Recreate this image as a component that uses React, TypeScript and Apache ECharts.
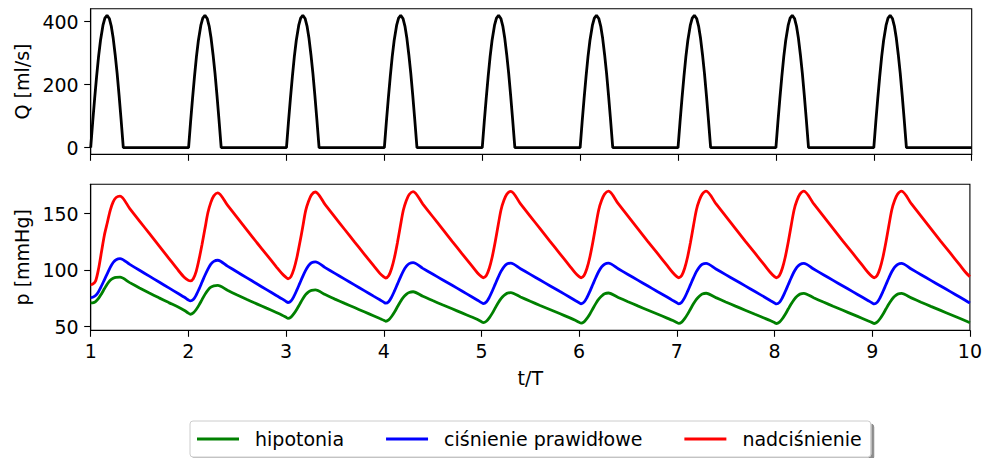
import React, { useEffect, useRef } from "react";
import * as echarts from "echarts";

// ---------- data ----------
const cycleStarts = [1, 2, 3, 4, 5, 6, 7, 8, 9];
const endT = 10;

const qOffsets = [0, 0.02, 0.04, 0.06, 0.08, 0.10, 0.125, 0.145, 0.167, 0.19, 0.21, 0.23, 0.25, 0.27, 0.29, 0.31, 0.333];
const qPulse = [0, 80, 155, 225, 288, 340, 388, 411, 420, 410, 386, 347, 295, 236, 166, 91, 0];
const qEnd = 0;

// pressure sample offsets within each cycle
const pOffsets = [0.0, 0.02, 0.05, 0.08, 0.11, 0.14, 0.17, 0.2, 0.23, 0.26, 0.3, 0.4, 0.5, 0.6, 0.7, 0.8, 0.9, 0.96];

const redCycles = [
  [87.3, 87.6, 90.5, 101, 116, 131, 142, 153, 160.5, 164.3, 165.5, 154.5, 143.5, 132.5, 121.5, 110.5, 99.5, 93.5],
  [91.0, 90.5, 92.5, 99, 110, 123, 137, 151, 160, 165.8, 168.4, 157.5, 146.5, 135.5, 124.5, 113.8, 103, 96.8],
  [93.6, 92.4, 94.3, 101, 111, 124, 138, 152.5, 161, 166.7, 169.2, 158, 147, 136, 125, 114.3, 103.5, 97.2],
  [94.1, 93.1, 95, 101.5, 111.5, 124.5, 139, 153, 161.5, 167, 169.6, 158.5, 147.5, 136.5, 125.5, 114.7, 104, 97.5],
  [94.3, 93.3, 95.2, 101.7, 111.7, 124.7, 139.3, 153.3, 161.8, 167.3, 169.8, 158.7, 147.7, 136.7, 125.7, 114.9, 104.1, 97.6],
  [94.3, 93.3, 95.2, 101.7, 111.7, 124.7, 139.3, 153.3, 161.8, 167.3, 169.9, 158.8, 147.8, 136.8, 125.8, 115, 104.2, 97.7],
  [94.3, 93.3, 95.2, 101.7, 111.7, 124.7, 139.3, 153.3, 161.8, 167.3, 170, 158.8, 147.8, 136.8, 125.8, 115, 104.2, 97.7],
  [94.3, 93.3, 95.2, 101.7, 111.7, 124.7, 139.3, 153.3, 161.8, 167.3, 170, 158.8, 147.8, 136.8, 125.8, 115, 104.2, 97.7],
  [94.3, 93.3, 95.2, 101.7, 111.7, 124.7, 139.3, 153.3, 161.8, 167.3, 170, 158.8, 147.8, 136.8, 125.8, 115, 104.2, 97.7],
];
const redEnd = 94.3;

const blueCycles = [
  [75.8, 76.0, 77.5, 81, 86, 91.5, 97, 102.5, 106.8, 109.3, 110.3, 105.1, 99.9, 94.7, 89.5, 84.3, 79.1, 76],
  [73.6, 72.8, 74, 78, 83.5, 89.5, 95.5, 101, 105.3, 107.8, 108.8, 103.6, 98.4, 93.2, 88, 82.8, 77.6, 74.6],
  [72.3, 71.4, 72.7, 76.8, 82.3, 88.3, 94.3, 99.8, 104, 106.5, 107.4, 102.3, 97.2, 92.1, 87, 81.9, 76.8, 73.8],
  [71.7, 70.8, 72.1, 76.2, 81.7, 87.7, 93.7, 99.2, 103.4, 105.8, 106.7, 101.6, 96.6, 91.6, 86.6, 81.6, 76.5, 73.4],
  [71.3, 70.4, 71.8, 75.9, 81.4, 87.4, 93.4, 98.9, 103, 105.4, 106.3, 101.3, 96.3, 91.3, 86.3, 81.3, 76.3, 73.2],
  [71.2, 70.3, 71.7, 75.8, 81.3, 87.3, 93.3, 98.8, 102.9, 105.3, 106.2, 101.2, 96.2, 91.2, 86.2, 81.2, 76.2, 73.1],
  [71.1, 70.2, 71.6, 75.7, 81.2, 87.2, 93.2, 98.7, 102.8, 105.2, 106.1, 101.1, 96.1, 91.1, 86.1, 81.1, 76.1, 73.0],
  [71.0, 70.1, 71.5, 75.6, 81.1, 87.1, 93.1, 98.6, 102.7, 105.1, 106.0, 101.0, 96.0, 91.0, 86.0, 81.0, 76.0, 73.0],
  [71.0, 70.1, 71.5, 75.6, 81.1, 87.1, 93.1, 98.6, 102.7, 105.1, 106.0, 101.0, 96.0, 91.0, 86.0, 81.0, 76.0, 73.0],
];
const blueEnd = 70.9;

const greenCycles = [
  [71, 71.1, 72.2, 75, 79, 83.5, 87.8, 91, 92.9, 93.7, 93.8, 89, 84.3, 79.8, 75.5, 71.3, 67.2, 64.3],
  [62, 61, 62.2, 65.2, 69.3, 74, 78.6, 82.4, 85, 86.2, 86.5, 82.2, 78, 74, 70.2, 66.4, 62.6, 60.2],
  [58.3, 57.3, 58.5, 61.5, 65.5, 70, 74.5, 78.3, 80.9, 82.2, 82.5, 78.4, 74.4, 70.6, 66.9, 63.2, 59.5, 57.2],
  [55.7, 54.8, 56, 59, 63, 67.6, 72.1, 75.9, 78.6, 80.3, 80.9, 76.9, 73.1, 69.4, 65.8, 62.2, 58.6, 56.3],
  [54.4, 53.6, 54.8, 57.8, 61.8, 66.4, 70.9, 74.8, 77.6, 79.5, 80.2, 76.3, 72.5, 68.8, 65.2, 61.6, 58, 55.7],
  [53.9, 53.1, 54.3, 57.3, 61.3, 65.9, 70.4, 74.3, 77.1, 79.1, 79.8, 75.9, 72.1, 68.4, 64.8, 61.2, 57.6, 55.4],
  [53.7, 52.9, 54.1, 57.1, 61.1, 65.7, 70.2, 74.1, 77, 78.9, 79.6, 75.7, 71.9, 68.2, 64.6, 61, 57.4, 55.2],
  [53.6, 52.8, 54, 57, 61, 65.6, 70.1, 74, 76.9, 78.8, 79.5, 75.6, 71.8, 68.1, 64.5, 60.9, 57.3, 55.1],
  [53.6, 52.8, 54, 57, 61, 65.6, 70.1, 74, 76.9, 78.8, 79.4, 75.5, 71.7, 68, 64.4, 60.8, 57.2, 55],
];
const greenEnd = 53.5;

const seriesNames = ["hipotonia", "ciśnienie prawidłowe", "nadciśnienie"];
const xTicks = [1, 2, 3, 4, 5, 6, 7, 8, 9, 10];
const qTicks = [0, 200, 400];
const pTicks = [50, 100, 150];

// ---------- helpers ----------
function buildCycles(offsets: number[], cycles: number[][], endValue: number) {
  const pts: number[][] = [];
  cycleStarts.forEach((s, i) => {
    offsets.forEach((o, j) => pts.push([s + o, cycles[i][j]]));
  });
  pts.push([endT, endValue]);
  return pts;
}

function buildQ() {
  const pts: number[][] = [];
  cycleStarts.forEach((s) => {
    qOffsets.forEach((o, j) => pts.push([s + o, qPulse[j]]));
  });
  pts.push([endT, qEnd]);
  return pts;
}

const FONT = "DejaVu Sans";
const FS = 19;

export default function App() {
  const ref = useRef<HTMLDivElement>(null);
  useEffect(() => {
    if (!ref.current) return;
    const chart = echarts.init(ref.current, undefined, { renderer: "svg" });
    const axisCommonX = {
      type: "value",
      min: 1,
      max: 10,
      interval: 1,
      axisLine: { show: true, onZero: false, lineStyle: { color: "#000", width: 1.1 } },
      axisTick: { show: true, inside: false, length: 6.5, lineStyle: { color: "#000", width: 1.1 }, customValues: xTicks },
      splitLine: { show: false },
    };
    const yLine = { show: true, onZero: false, lineStyle: { color: "#000", width: 1.1 } };
    const option: any = {
      animation: false,
      backgroundColor: "#fff",
      textStyle: { fontFamily: FONT },
      grid: [
        { left: 90.7, right: 13.3, top: 8.7, height: 145.6, show: true, borderColor: "#000", borderWidth: 1.1, backgroundColor: "transparent" },
        { left: 90.7, right: 13.3, top: 184.3, height: 146, show: true, borderColor: "#000", borderWidth: 1.1, backgroundColor: "transparent" },
      ],
      xAxis: [
        { ...axisCommonX, gridIndex: 0, axisLabel: { show: false } },
        {
          ...axisCommonX,
          gridIndex: 1,
          name: "t/T",
          nameLocation: "middle",
          nameGap: 38,
          nameTextStyle: { fontFamily: FONT, fontSize: FS, color: "#000" },
          axisLabel: { show: true, margin: 11, fontFamily: FONT, fontSize: FS, color: "#000", showMinLabel: true, showMaxLabel: true, customValues: xTicks },
        },
      ],
      yAxis: [
        {
          type: "value",
          gridIndex: 0,
          min: -21,
          max: 441,
          name: "Q [ml/s]",
          nameLocation: "middle",
          nameGap: 58,
          nameTextStyle: { fontFamily: FONT, fontSize: FS, color: "#000" },
          axisLine: yLine,
          axisTick: { show: true, inside: false, length: 6.5, lineStyle: { color: "#000", width: 1.1 }, customValues: qTicks },
          axisLabel: { show: true, margin: 12, fontFamily: FONT, fontSize: FS, color: "#000", customValues: qTicks },
          splitLine: { show: false },
        },
        {
          type: "value",
          gridIndex: 1,
          min: 46.8,
          max: 176,
          name: "p [mmHg]",
          nameLocation: "middle",
          nameGap: 58,
          nameTextStyle: { fontFamily: FONT, fontSize: FS, color: "#000" },
          axisLine: yLine,
          axisTick: { show: true, inside: false, length: 6.5, lineStyle: { color: "#000", width: 1.1 }, customValues: pTicks },
          axisLabel: { show: true, margin: 12, fontFamily: FONT, fontSize: FS, color: "#000", customValues: pTicks },
          splitLine: { show: false },
        },
      ],
      legend: {
        data: seriesNames,
        left: 190,
        top: 421,
        orient: "horizontal",
        padding: [8.5, 9, 8.5, 7],
        icon: "rect",
        itemWidth: 42,
        itemHeight: 3,
        itemGap: 42,
        backgroundColor: "#fff",
        borderColor: "#cccccc",
        borderWidth: 1,
        borderRadius: 3,
        shadowColor: "rgba(0,0,0,0.45)",
        shadowBlur: 0,
        shadowOffsetX: 3,
        shadowOffsetY: 3,
        textStyle: { fontFamily: FONT, fontSize: FS, color: "#000", padding: [0, 0, 0, 11] },
        selectedMode: false,
      },
      series: [
        {
          type: "line",
          xAxisIndex: 0,
          yAxisIndex: 0,
          data: buildQ(),
          showSymbol: false,
          symbol: "none",
          color: "#000",
          lineStyle: { color: "#000", width: 2.8 },
          smooth: false,
        },
        {
          name: seriesNames[0],
          type: "line",
          xAxisIndex: 1,
          yAxisIndex: 1,
          data: buildCycles(pOffsets, greenCycles, greenEnd),
          showSymbol: false,
          symbol: "none",
          color: "#008000",
          lineStyle: { color: "#008000", width: 2.8 },
          smooth: 0.3,
        },
        {
          name: seriesNames[1],
          type: "line",
          xAxisIndex: 1,
          yAxisIndex: 1,
          data: buildCycles(pOffsets, blueCycles, blueEnd),
          showSymbol: false,
          symbol: "none",
          color: "#0000ff",
          lineStyle: { color: "#0000ff", width: 2.8 },
          smooth: 0.3,
        },
        {
          name: seriesNames[2],
          type: "line",
          xAxisIndex: 1,
          yAxisIndex: 1,
          data: buildCycles(pOffsets, redCycles, redEnd),
          showSymbol: false,
          symbol: "none",
          color: "#ff0000",
          lineStyle: { color: "#ff0000", width: 2.8 },
          smooth: 0.3,
        },
      ],
    };
    chart.setOption(option);
    return () => chart.dispose();
  }, []);
  return <div ref={ref} style={{ position: "absolute", left: 0, top: 0, width: 985, height: 458 }} />;
}
